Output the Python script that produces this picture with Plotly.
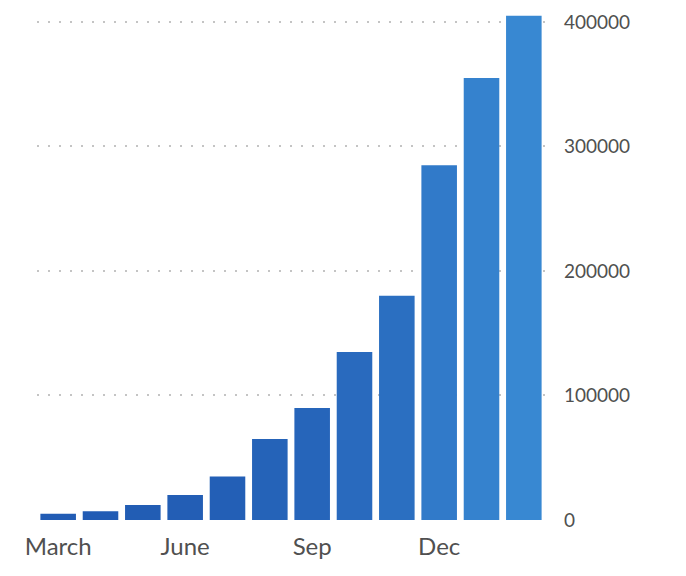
import plotly.graph_objects as go

months = ["March", "April", "May", "June", "July", "Aug", "Sep", "Oct", "Nov", "Dec", "Jan", "Feb"]
values = [5000, 7000, 12000, 20000, 35000, 65000, 90000, 135000, 180000, 285000, 355000, 405000]
shown_ticks = ["March", "June", "Sep", "Dec"]
y_ticks = [0, 100000, 200000, 300000, 400000]

vmax = max(values)
def shade(v):
    t = v / vmax
    r0, g0, b0 = 0x22, 0x5c, 0xb4
    r1, g1, b1 = 0x38, 0x88, 0xd2
    return "rgb(%d,%d,%d)" % (r0 + (r1 - r0) * t, g0 + (g1 - g0) * t, b0 + (b1 - b0) * t)

fig = go.Figure(go.Bar(
    x=months, y=values,
    marker=dict(color=[shade(v) for v in values], line=dict(width=0)),
    width=0.84,
))

fig.update_layout(
    width=686, height=576,
    margin=dict(l=37, r=141, t=7, b=56),
    plot_bgcolor="white", paper_bgcolor="white",
    showlegend=False,
    font=dict(family="Lato, Open Sans, sans-serif", size=20, color="#505050"),
    xaxis=dict(
        tickmode="array", tickvals=shown_ticks, ticktext=shown_ticks,
        tickfont=dict(size=24),
        showgrid=False, showline=False, ticks="", zeroline=False,
        ticklabelstandoff=10,
    ),
    yaxis=dict(
        side="right", range=[0, 412000],
        tickvals=y_ticks, tickformat="d",
        tickfont=dict(size=19),
        showgrid=True, gridcolor="#c4c4c4", gridwidth=2, griddash="2px,9px",
        zeroline=False, showline=False, ticks="",
        ticklabelstandoff=18,
    ),
)

fig.write_html("out.html")
